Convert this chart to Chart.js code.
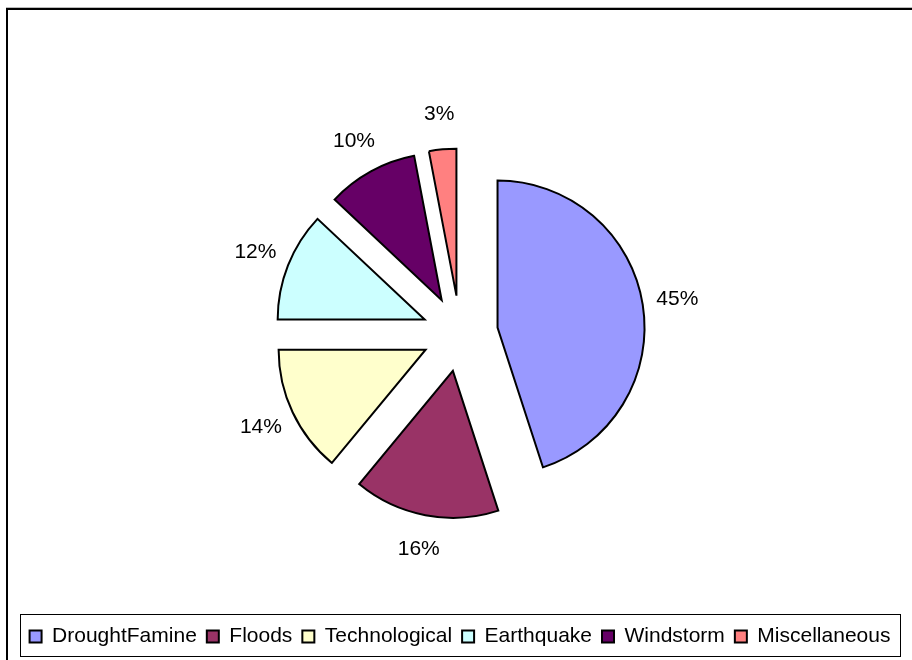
<!DOCTYPE html>
<html>
<head>
<meta charset="utf-8">
<script src="https://cdn.jsdelivr.net/npm/chart.js@4"></script>
<style>
  html, body { margin: 0; padding: 0; background: #fff; }
  #wrap { position: relative; width: 912px; height: 660px; overflow: hidden; }
  #frame { position: absolute; left: 6px; top: 8px; width: 1000px; height: 1000px;
           border-left: 2px solid #000; border-top: 2px solid #000; box-shadow: 0 -1px 0 #bbb; }
  canvas { position: absolute; left: 0; top: 0; }
</style>
</head>
<body>
<div id="wrap">
  <div id="frame"></div>
  <canvas id="myChart" width="912" height="660"></canvas>
</div>
<script>
// categorie e valori (percentuali)
const categories = ['DroughtFamine', 'Floods', 'Technological', 'Earthquake', 'Windstorm', 'Miscellaneous']
const shares = [45, 16, 14, 12, 10, 3]
const sliceColors = ['#9999FF', '#993366', '#FFFFCC', '#CCFFFF', '#660066', '#FF8080']

const EXPLODE = 38      // distanza di esplosione delle fette
const LABEL_GAP = 35    // distanza etichette dal bordo

// disegna le fette spostate lungo la bisettrice
const explodedSlices = {
  id: 'explodedSlices',
  beforeDatasetDraw(chart, args) {
    const ctx = chart.ctx
    args.meta.data.forEach(arc => {
      const mid = (arc.startAngle + arc.endAngle) / 2
      ctx.save()
      ctx.translate(Math.cos(mid) * EXPLODE, Math.sin(mid) * EXPLODE)
      arc.draw(ctx)
      ctx.restore()
    })
    return false
  }
}

// etichette percentuali fuori dalle fette
const pctLabels = {
  id: 'pctLabels',
  afterDatasetsDraw(chart) {
    const ctx = chart.ctx
    const meta = chart.getDatasetMeta(0)
    ctx.save()
    ctx.font = '21px "Liberation Sans", Arial, sans-serif'
    ctx.fillStyle = '#000'
    ctx.textAlign = 'center'
    ctx.textBaseline = 'middle'
    meta.data.forEach((arc, i) => {
      const mid = (arc.startAngle + arc.endAngle) / 2
      const r = EXPLODE + arc.outerRadius + LABEL_GAP
      ctx.fillText(shares[i] + '%', arc.x + Math.cos(mid) * r, arc.y + Math.sin(mid) * r)
    })
    ctx.restore()
  }
}

// riquadro attorno alla legenda
const legendBox = {
  id: 'legendBox',
  afterDraw(chart) {
    const ctx = chart.ctx
    ctx.save()
    ctx.strokeStyle = '#000'
    ctx.lineWidth = 1
    ctx.strokeRect(20.5, 614.5, 880, 42)
    ctx.restore()
  }
}

const ctx = document.getElementById('myChart')

new Chart(ctx, {
  type: 'pie',
  plugins: [explodedSlices, pctLabels, legendBox],
  data: {
    labels: categories,
    datasets: [{
      data: shares,
      backgroundColor: sliceColors,
      borderColor: '#000',
      borderWidth: 2,
      borderJoinStyle: 'miter'
    }]
  },
  options: {
    responsive: false,
    animation: false,
    radius: 147,
    layout: { padding: { top: 51, bottom: 3, left: 8, right: 0 } },
    plugins: {
      tooltip: { enabled: false },
      legend: {
        position: 'bottom',
        labels: {
          color: '#000',
          boxWidth: 12,
          boxHeight: 12,
          padding: 10,
          font: { family: '"Liberation Sans", Arial, sans-serif', size: 21 }
        }
      }
    }
  }
})
</script>
</body>
</html>
